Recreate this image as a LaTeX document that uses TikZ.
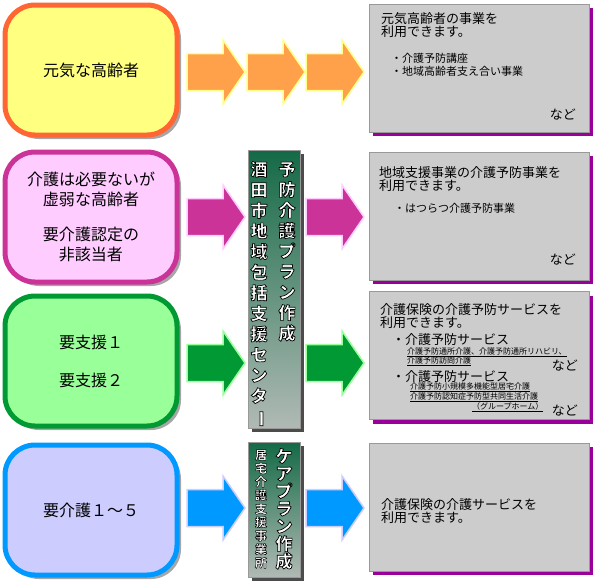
\documentclass[tikz,border=0pt]{standalone}
\usepackage{fontspec}
\setmainfont{Noto Sans CJK JP}
\usetikzlibrary{shadows}

\definecolor{orangeline}{HTML}{FF6633}
\definecolor{orangefill}{HTML}{FFFF80}
\definecolor{orangearr}{HTML}{FFA04A}
\definecolor{orangeglow}{HTML}{FFFF88}
\definecolor{pinkline}{HTML}{CC3399}
\definecolor{pinkfill}{HTML}{FFCCFF}
\definecolor{pinkglow}{HTML}{FFCCFF}
\definecolor{greenline}{HTML}{009933}
\definecolor{greenfill}{HTML}{99FF99}
\definecolor{greenglow}{HTML}{99FF99}
\definecolor{blueline}{HTML}{0099FF}
\definecolor{bluefill}{HTML}{CCCCFF}
\definecolor{blueglow}{HTML}{CCCCFF}
\definecolor{infofill}{HTML}{CCCCCC}
\definecolor{infoshadow}{HTML}{990099}
\definecolor{bartop}{HTML}{146A46}
\definecolor{barbottom}{HTML}{B0BAB5}

% white letters with a black rim
\newcommand\rim[2][0.7]{\special{pdf:literal direct 2 Tr #1 w 0 G}#2\special{pdf:literal direct 0 Tr}}

\begin{document}
\begin{tikzpicture}[x=1pt,y=-1pt,
    who/.style={draw, rounded corners=30pt, line width=5pt,
      minimum width=172pt, minimum height=130pt, align=center,
      font=\fontsize{16}{20}\selectfont,
      drop shadow={shadow xshift=4pt, shadow yshift=-4pt, fill=black!35, opacity=1}},
    info/.style={draw=black!40, fill=infofill, minimum width=220pt, minimum height=128pt,
      drop shadow={shadow xshift=4pt, shadow yshift=-4pt, fill=infoshadow, opacity=1}},
    bar/.style={draw=black!40, top color=bartop, bottom color=barbottom, minimum width=52pt,
      drop shadow={shadow xshift=4pt, shadow yshift=-4pt, fill=black!70, opacity=1}},
    vtext/.style={text=white, inner sep=0pt, text height=13pt, text depth=2pt,
      font=\fontsize{17}{17}\selectfont\bfseries},
    vsmall/.style={text=white, inner sep=0pt, text height=9pt, text depth=1.5pt,
      font=\fontsize{12}{12}\selectfont\bfseries},
    head/.style={anchor=west, align=left, inner sep=0pt, font=\fontsize{13}{13.5}\selectfont},
    item/.style={anchor=west, align=left, inner sep=0pt, font=\fontsize{11}{13}\selectfont},
    sub/.style={anchor=west, inner sep=0pt, text height=6.5pt, text depth=1.5pt,
      font=\fontsize{8}{9}\selectfont},
    etc/.style={anchor=east, inner sep=0pt, font=\fontsize{13}{13}\selectfont},
    flow/.pic={\filldraw[line width=1.5pt, #1] (0,-18.5) -- (36,-18.5) -- (36,-32) -- (58,0)
      -- (36,32) -- (36,18.5) -- (0,18.5) -- cycle;}]
  \useasboundingbox (0,0) rectangle (596,587);

  % people
  \node[who, draw=orangeline, fill=orangefill] (genki) at (91,70) {元気な高齢者};
  \node[who, draw=pinkline, fill=pinkfill] (kyojaku) at (91,217)
    {介護は必要ないが\\虚弱な高齢者\\[15pt]要介護認定の\\非該当者};
  \node[who, draw=greenline, fill=greenfill] (shien) at (91,361)
    {要支援１\\[18pt]要支援２};
  \node[who, draw=blueline, fill=bluefill] (kaigo) at (91,510) {要介護１～５};

  % arrows
  \foreach \x [count=\k] in {187,247,306}
    \pic (o\k) at (\x,72) {flow={fill=orangearr, draw=orangeglow}};
  \foreach \y/\c/\o [count=\r] in {217/pinkline/pinkglow, 363/greenline/greenglow, 508/blueline/blueglow} {
    \pic (a\r) at (187,\y) {flow={fill=\c, draw=\o}};
    \pic (b\r) at (306,\y) {flow={fill=\c, draw=\o}};
  }

  % centres
  \node[bar, minimum height=278pt] (center) at (274,289) {};
  \foreach \ch [count=\i] in {予,防,介,護,プ,ラ,ン,作,成}
    \node[vtext] (plan\i) at (287,149.5+20.5*\i) {\rim{\ch}};
  \foreach \ch [count=\i] in {酒,田,市,地,域,包,括,支,援,セ,ン,タ,{\rotatebox[origin=c]{-90}{ー}}}
    \node[vtext] (name\i) at (259,149.5+20.6*\i) {\rim{\ch}};

  \node[bar, minimum height=135pt] (office) at (274,509.5) {};
  \foreach \ch [count=\i] in {ケ,ア,プ,ラ,ン,作,成}
    \node[vtext] (care\i) at (284,439.5+17.5*\i) {\rim{\ch}};
  \foreach \ch [count=\i] in {居,宅,介,護,支,援,事,業,所}
    \node[vsmall] (jigyo\i) at (261,442+13.5*\i) {\rim[0.45]{\ch}};

  % services
  \node[info] (svc1) at (479,68) {};
  \node[head] (svc1h) at (381,25) {元気高齢者の事業を\\利用できます。};
  \node[item] (svc1i) at (391,64.5) {・介護予防講座\\・地域高齢者支え合い事業};
  \node[etc] (svc1e) at (576,115) {など};

  \node[info] (svc2) at (479,216) {};
  \node[head] (svc2h) at (379,179) {地域支援事業の介護予防事業を\\利用できます。};
  \node[item] (svc2i) at (394,208) {・はつらつ介護予防事業};
  \node[etc] (svc2e) at (576,260) {など};

  \node[info] (svc3) at (479,355.5) {};
  \node[head] (svc3h) at (380,316) {介護保険の介護予防サービスを\\利用できます。};
  \node[head] (svc3a) at (392,340) {・介護予防サービス};
  \node[sub] (svc3a1) at (407,352) {\underline{介護予防通所介護、介護予防通所リハビリ、}};
  \node[sub] (svc3a2) at (407,361) {\underline{介護予防訪問介護}};
  \node[etc] (svc3ae) at (578,366) {など};
  \node[head] (svc3b) at (392,377) {・介護予防サービス};
  \node[sub] (svc3b1) at (410,387) {\underline{介護予防小規模多機能型居宅介護}};
  \node[sub] (svc3b2) at (410,397) {\underline{介護予防認知症予防型共同生活介護}};
  \node[sub] (svc3b3) at (472,407) {\underline{（グループホーム）}};
  \node[etc] (svc3be) at (578,411) {など};

  \node[info] (svc4) at (479,507) {};
  \node[head] (svc4h) at (381,511) {介護保険の介護サービスを\\利用できます。};
\end{tikzpicture}
\end{document}
